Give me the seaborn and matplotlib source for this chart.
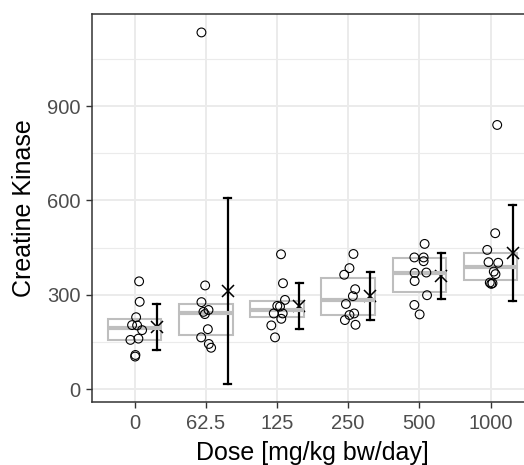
import numpy as np
import pandas as pd
import matplotlib
matplotlib.use("Agg")
import matplotlib.pyplot as plt
import seaborn as sns

# ---- data ----
doses = ["0", "62.5", "125", "250", "500", "1000"]

ck_0 = [343, 278, 229, 204, 203, 188, 157, 161, 109, 104]
ck_62 = [1134, 330, 277, 252, 246, 239, 191, 165, 144, 132]
ck_125 = [429, 337, 284, 265, 263, 241, 241, 224, 203, 165]
ck_250 = [430, 385, 364, 318, 296, 271, 241, 236, 220, 205]
ck_500 = [462, 419, 419, 407, 370, 371, 344, 299, 268, 238]
ck_1000 = [840, 496, 443, 404, 402, 374, 366, 339, 337, 335]

# horizontal jitter of each point (category units)
jit_0 = [0.062, 0.070, 0.020, -0.037, 0.034, 0.104, -0.060, 0.052, 0.010, 0.006]
jit_62 = [-0.062, -0.010, -0.062, 0.037, -0.034, -0.014, 0.028, -0.066, 0.042, 0.074]
jit_125 = [0.056, 0.084, 0.112, 0.004, 0.042, -0.046, 0.080, 0.060, -0.080, -0.028]
jit_250 = [0.074, 0.018, -0.056, 0.098, 0.066, -0.032, 0.084, 0.018, -0.046, 0.103]
jit_500 = [0.074, -0.070, 0.060, 0.060, -0.066, 0.098, -0.066, 0.108, -0.070, 0.004]
jit_1000 = [0.094, 0.066, -0.046, -0.028, 0.108, 0.046, 0.070, -0.010, 0.028, 0.010]

groups = [ck_0, ck_62, ck_125, ck_250, ck_500, ck_1000]
jitters = [jit_0, jit_62, jit_125, jit_250, jit_500, jit_1000]

rows = []
for code, (vals, jits) in enumerate(zip(groups, jitters)):
    for v, j in zip(vals, jits):
        rows.append({"dose": doses[code], "code": code, "ck": v, "jit": j})
df = pd.DataFrame(rows)

NUDGE = 0.31
df["xpt"] = df["code"] + df["jit"]
df["xerr"] = df["code"] + NUDGE

# ---- figure ----
plt.rcParams["font.family"] = ["Liberation Sans", "DejaVu Sans"]
fig = plt.figure(figsize=(5.24, 4.65), dpi=100)
W, H = 524, 465
ax = fig.add_axes([92 / W, 63 / H, 441.2 / W, 388 / H])

box_grey = "#BEBEBE"
sns.boxplot(data=df, x="code", y="ck", native_scale=True, width=0.75,
            whis=0, showfliers=False, showcaps=False,
            color="white", linecolor=box_grey, linewidth=1.5,
            whiskerprops={"linewidth": 0},
            medianprops={"linewidth": 3.0, "color": box_grey},
            ax=ax)

sns.scatterplot(data=df, x="xpt", y="ck", marker="o", s=40,
                facecolor="none", edgecolor="black", linewidth=0.8,
                ax=ax, zorder=3)

sns.pointplot(data=df, x="xerr", y="ck", native_scale=True,
              estimator="mean", errorbar="sd", marker="x", linestyle="none",
              color="black", markersize=8, markeredgewidth=1.1,
              capsize=0.1, err_kws={"linewidth": 1.6}, ax=ax)

ax.set_xlim(-0.6, 5.6)
ax.set_ylim(-40.4, 1192.6)
ax.set_xticks(range(len(doses)))
ax.set_xticklabels(doses)
ax.set_yticks([0, 300, 600, 900])
ax.set_yticks([150, 450, 750, 1050], minor=True)

ax.set_axisbelow(True)
ax.grid(True, which="major", color="#EBEBEB", linewidth=1.4)
ax.grid(True, which="minor", axis="y", color="#EBEBEB", linewidth=0.8)

for sp in ax.spines.values():
    sp.set_color("#333333")
    sp.set_linewidth(1.1)

ax.tick_params(axis="both", which="major", length=4.3, width=1.0,
               color="#333333", labelcolor="#4D4D4D", labelsize=14.5, pad=4)
ax.tick_params(axis="both", which="minor", length=0)

ax.set_xlabel("Dose [mg/kg bw/day]", fontsize=18, color="black", labelpad=6)
ax.set_ylabel("Creatine Kinase", fontsize=18, color="black", labelpad=8)

fig.savefig("out.png", dpi=100)
